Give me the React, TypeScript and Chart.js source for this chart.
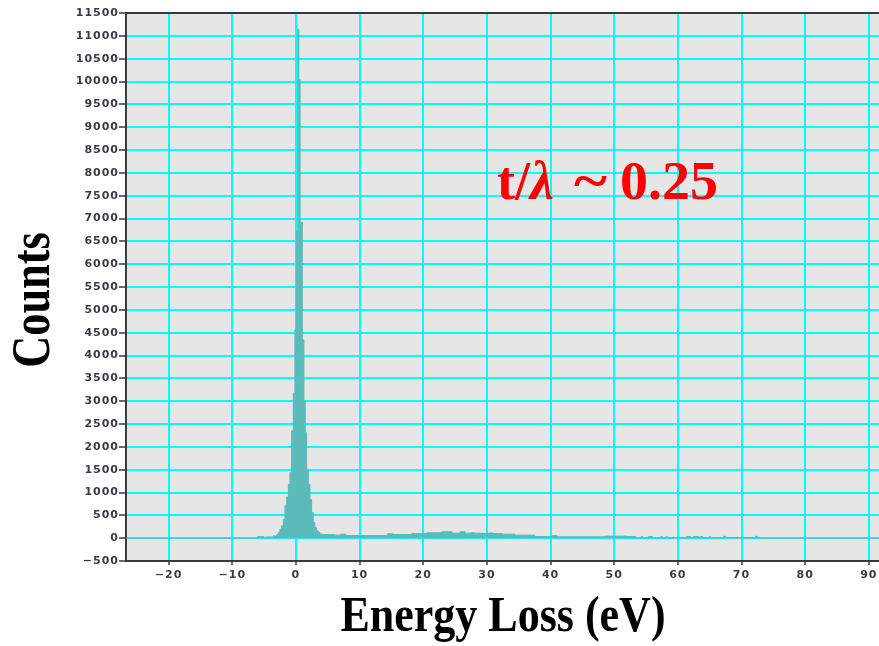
import React, { useEffect, useRef } from 'react';
import { Chart, registerables } from 'chart.js';

Chart.register(...registerables);

// Histogram bins: left edge of each bin (eV) and its counts
const binStartEv = [
  -26.7, -6.0, -5.5, -5.4, -5.1, -4.8, -3.6, -3.03, -2.78, -2.51, -2.24, -1.99,
  -1.73, -1.46, -1.19, -0.94, -0.68, -0.42, -0.16, 0.05, 0.28, 0.45, 0.65, 1.0,
  1.25, 1.45, 1.68, 1.94, 2.2, 2.46, 2.72, 2.98, 3.24, 3.5, 3.77, 4.2, 5.3, 6.1,
  7.0, 7.8, 14.4, 15.2, 18.2, 20.6, 22.9, 24.5, 25.8, 26.6, 27.5, 28.0, 29.4,
  30.5, 31.0, 32.5, 34.4, 37.5, 39.9, 40.3, 41.0, 48.5, 52.0, 53.4, 54.2, 54.5,
  55.3, 56.0, 57.3, 57.6, 58.1, 58.4, 61.3, 62.0, 62.4, 63.2, 63.5, 63.9, 64.9,
  65.2, 67.2, 67.5, 72.2, 72.5, 73.0,
];
const counts = [
  0, 35, 10, 35, 20, 25, 50, 75, 130, 200, 270, 415,
  710, 900, 1180, 1440, 2350, 3170, 4570, 6720, 11150, 10040, 6920, 4340,
  3000, 2310, 1510, 1180, 850, 560, 340, 230, 160, 125, 88, 78, 80, 66,
  88, 58, 95, 80, 100, 117, 139, 110, 139, 109, 120, 109, 105,
  115, 100, 88, 66, 36, 40, 58, 29, 44, 35, 10, 30, 10,
  35, 10, 30, 10, 30, 10, 35, 15, 35, 15, 35, 10, 30,
  10, 40, 10, 40, 10, 0,
];
const lastEdgeEv = 91.6;

const xMin = -26.7;
const xMax = 91.6;
const xTickValues = [-20, -10, 0, 10, 20, 30, 40, 50, 60, 70, 80, 90];
const yMin = -500;
const yMax = 11500;
const yTickValues = [
  -500, 0, 500, 1000, 1500, 2000, 2500, 3000, 3500, 4000, 4500, 5000, 5500, 6000,
  6500, 7000, 7500, 8000, 8500, 9000, 9500, 10000, 10500, 11000, 11500,
];

const xTitle = 'Energy Loss (eV)';
const yTitle = 'Counts';
const noteParts = ['t/', 'λ', '~', '0.25'];

const minus = (v: number | string) => String(v).replace('-', '\u2212');

export default function App() {
  const ref = useRef<HTMLCanvasElement>(null);

  useEffect(() => {
    const canvas = ref.current;
    if (!canvas) return;
    const points = binStartEv.map((x, i) => ({ x, y: counts[i] }));
    points.push({ x: lastEdgeEv, y: 0 });

    const decor = {
      id: 'decor',
      beforeDraw(chart: any) {
        const { ctx, chartArea: a } = chart;
        ctx.save();
        ctx.fillStyle = '#ffffff';
        ctx.fillRect(0, 0, chart.width, chart.height);
        ctx.fillStyle = '#e6e6e6';
        ctx.fillRect(a.left, a.top, a.right - a.left, a.bottom - a.top);
        ctx.restore();
        (ctx as any).letterSpacing = '1px';
      },
      afterDraw(chart: any) {
        const { ctx, chartArea: a } = chart;
        ctx.save();
        (ctx as any).letterSpacing = '0px';
        // top border
        ctx.strokeStyle = '#3a3a3a';
        ctx.lineWidth = 2;
        ctx.beginPath();
        ctx.moveTo(a.left - 1, a.top);
        ctx.lineTo(a.right, a.top);
        ctx.stroke();

        // x title
        ctx.fillStyle = '#000000';
        ctx.textBaseline = 'alphabetic';
        ctx.textAlign = 'center';
        ctx.save();
        ctx.translate(503, 631);
        ctx.scale(0.88, 1);
        ctx.font = 'bold 50px "Liberation Serif", serif';
        ctx.fillText(xTitle, 0, 0);
        ctx.restore();

        // y title
        ctx.save();
        ctx.translate(49, 300);
        ctx.rotate(-Math.PI / 2);
        ctx.scale(0.82, 1);
        ctx.font = 'bold 54px "Liberation Serif", serif';
        ctx.fillText(yTitle, 0, 0);
        ctx.restore();

        // annotation
        ctx.fillStyle = '#ff0000';
        ctx.textAlign = 'left';
        const base = 199;
        ctx.font = 'bold 54px "Liberation Serif", serif';
        ctx.fillText(noteParts[0], 497, base);
        ctx.font = 'italic bold 54px "Liberation Serif", serif';
        ctx.fillText(noteParts[1], 530, base);
        ctx.font = 'bold 54px "Liberation Serif", serif';
        ctx.save();
        ctx.translate(574, base);
        const tw = ctx.measureText(noteParts[2]).width;
        ctx.scale(33 / tw, 1);
        ctx.fillText(noteParts[2], 0, 0);
        ctx.restore();
        ctx.save();
        ctx.translate(620, base);
        const dw = ctx.measureText(noteParts[3]).width;
        ctx.scale(98 / dw, 1);
        ctx.fillText(noteParts[3], 0, 0);
        ctx.restore();
        ctx.restore();
      },
    };

    const tickFont = { family: '"DejaVu Sans", sans-serif', size: 11, weight: 'bold' };
    const chart = new Chart(canvas, {
      type: 'line',
      data: {
        datasets: [
          {
            data: points,
            stepped: true,
            fill: 'origin',
            backgroundColor: '#5bbaba',
            borderColor: '#5bbaba',
            borderWidth: 1,
            pointRadius: 0,
            tension: 0,
          },
        ],
      },
      options: {
        animation: false,
        responsive: false,
        devicePixelRatio: 1,
        layout: { padding: { top: 13, left: 0, right: 0, bottom: 0 } },
        plugins: { legend: { display: false }, tooltip: { enabled: false } },
        scales: {
          x: {
            type: 'linear',
            min: xMin,
            max: xMax,
            ticks: {
              color: '#3a3a48',
              font: tickFont,
              padding: 4,
              maxRotation: 0,
              autoSkip: false,
              callback: (v: any) => minus(v),
            },
            grid: {
              color: '#00ffff',
              lineWidth: 2,
              drawTicks: true,
              tickLength: 4,
              tickColor: '#3a3a3a',
              tickWidth: 1.5,
            },
            border: { display: true, color: '#3a3a3a', width: 2 },
            afterBuildTicks: (s: any) => {
              s.ticks = xTickValues.map((value) => ({ value }));
            },
            afterFit: (s: any) => {
              s.height = 85;
              s.paddingLeft = 0;
              s.paddingRight = 0;
            },
          },
          y: {
            type: 'linear',
            min: yMin,
            max: yMax,
            ticks: {
              color: '#3a3a48',
              font: tickFont,
              padding: 0,
              autoSkip: false,
              callback: (v: any) => minus(v),
            },
            grid: {
              color: '#00ffff',
              lineWidth: 2,
              drawTicks: true,
              tickLength: 7,
              tickColor: '#3a3a3a',
              tickWidth: 1.5,
            },
            border: { display: true, color: '#3a3a3a', width: 2 },
            afterBuildTicks: (s: any) => {
              s.ticks = yTickValues.map((value) => ({ value }));
            },
            afterFit: (s: any) => {
              s.width = 126;
              s.paddingTop = 0;
              s.paddingBottom = 0;
            },
          },
        },
      },
      plugins: [decor],
    } as any);

    return () => chart.destroy();
  }, []);

  return (
    <div style={{ position: 'absolute', left: 0, top: 0, width: 879, height: 646, background: '#ffffff' }}>
      <canvas ref={ref} width={879} height={646} style={{ display: 'block' }} />
    </div>
  );
}
